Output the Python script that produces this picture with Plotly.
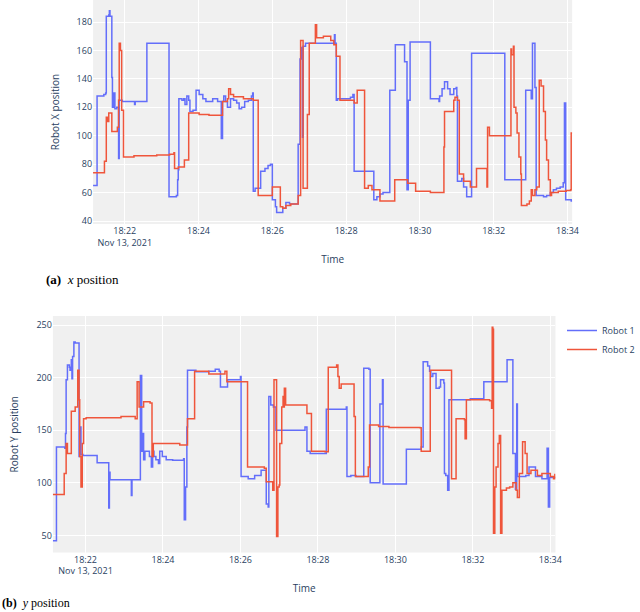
import pandas as pd
import plotly.graph_objects as go

# seconds after 18:21:00 on Nov 13, 2021 -> position (value holds until next point)
top_robot1 = [
    (8, 65), (15, 128), (26, 129), (29, 130), (30, 184), (34, 185), (35, 188), (36, 184),
    (39, 141), (40, 120), (42, 130), (44, 119), (47, 120), (50, 84), (51, 125), (56, 124),
    (76, 122), (77, 124), (96, 165), (132, 57), (144, 58), (146, 69), (147, 76), (148, 126),
    (153, 125), (156, 126), (158, 122), (161, 128), (164, 125), (166, 117), (171, 118),
    (176, 132), (181, 129), (187, 126), (192, 124), (203, 126), (211, 124), (217, 98),
    (219, 124), (221, 128), (224, 124), (227, 120), (232, 126), (237, 125), (242, 123),
    (246, 119), (250, 120), (255, 124), (261, 125), (266, 128), (268, 130), (269, 61),
    (272, 63), (281, 75), (288, 77), (293, 79), (297, 80), (300, 55), (305, 50), (307, 46),
    (317, 49), (322, 53), (328, 52), (342, 94), (345, 154), (347, 162), (349, 99), (350, 163),
    (354, 165), (401, 171), (402, 165), (404, 125), (406, 126), (427, 127), (431, 129),
    (433, 75), (465, 55), (470, 57), (475, 59), (480, 60), (491, 132), (500, 164), (515, 152),
    (519, 62), (521, 125), (524, 166), (557, 126), (571, 124), (572, 128), (576, 133),
    (580, 138), (585, 133), (589, 129), (595, 133), (599, 134), (600, 128), (601, 68),
    (608, 70), (611, 64), (616, 57), (624, 158), (678, 69), (712, 132), (721, 126), (723, 165),
    (727, 134), (729, 58), (741, 57), (746, 58), (752, 60), (757, 62), (762, 63), (768, 64),
    (773, 67), (775, 123), (777, 55), (786, 54), (788, 54),
]

top_robot2 = [
    (8, 74), (27, 82), (30, 113), (32, 110), (34, 116), (39, 103), (48, 106), (50, 125),
    (51, 165), (53, 160), (55, 118), (58, 85), (75, 86), (112, 86.5), (133, 87), (140, 88),
    (141, 77), (147, 78), (157, 83), (164, 116), (181, 115), (197, 114.5), (219, 124),
    (227, 126), (229, 133), (232, 129), (237, 127.5), (253, 126), (269, 125), (277, 58),
    (300, 64), (313, 50), (317, 49), (322, 51), (330, 52), (342, 58), (346, 167), (350, 63),
    (357, 115), (360, 165), (370, 178), (372, 169), (383, 170), (395, 167), (400, 164),
    (404, 156), (410, 125), (433, 123), (438, 132), (450, 63), (456, 65), (462, 62), (475, 54),
    (499, 69), (520, 66.5), (533, 61), (557, 60), (579, 92), (580, 117), (595, 125), (597, 127),
    (601, 125), (604, 73), (611, 68), (622, 64), (632, 77), (649, 64), (650, 106), (653, 100),
    (688, 161), (689, 157), (692, 163), (693, 120), (696, 116), (698, 102), (701, 85), (704, 73),
    (705, 51), (714, 52), (718, 54), (721, 62), (723, 58), (727, 62), (730, 64), (734, 139),
    (737, 135), (741, 117), (744, 97), (746, 83), (749, 69), (752, 58), (754, 60), (765, 61),
    (778, 61.5), (785, 62), (786, 102), (788, 102),
]

bottom_robot1 = [
    (9, 45), (15, 134), (28, 133), (29, 147), (30, 198), (32, 212), (35, 210), (36, 207),
    (38, 217), (39, 199), (40, 220), (42, 234), (44, 233), (50, 125), (51, 153), (53, 127),
    (56, 126), (78, 119), (96, 76), (97, 110), (98, 103), (131, 88), (132, 103), (145, 202),
    (147, 130), (148, 147), (150, 122), (152, 130), (159, 125), (162, 115), (164, 130),
    (166, 125), (169, 122), (173, 118.5), (175, 130), (179, 125), (185, 122), (195, 121.6),
    (212, 123), (213, 65), (215, 96), (217, 153), (218, 207), (231, 205.6), (251, 206),
    (261, 208), (267, 206), (269, 191), (280, 198), (300, 201), (301, 106), (312, 104),
    (322, 107), (332, 112), (340, 80), (343, 77), (344, 182), (347, 174), (351, 172),
    (355, 150), (400, 153), (403, 130), (408, 128), (433, 170), (464, 172), (465, 106),
    (471, 107), (479, 106), (491, 209), (499, 208), (501, 100), (516, 175), (520, 198),
    (521, 99), (557, 132), (580, 134), (583, 215), (590, 211), (593, 206), (595, 201),
    (598, 204), (603, 190), (608, 191), (610, 198), (615, 195), (616, 109), (618, 107),
    (621, 93), (623, 179), (656, 180), (677, 196), (713, 217), (722, 128), (726, 94),
    (728, 175), (729, 106), (742, 107), (747, 115), (757, 106), (767, 104), (775, 133),
    (777, 77), (779, 105), (788, 105),
]

bottom_robot2 = [
    (9, 89), (27, 109), (30, 137.5), (32, 128), (38, 168), (44, 172), (48, 207), (50, 179),
    (51, 125), (53, 96), (55, 137.5), (57, 161), (61, 162), (115, 163), (137, 161), (140, 196),
    (143, 172), (150, 177), (160, 176), (163, 125), (165, 137.5), (206, 136), (218, 161),
    (229, 206), (251, 203.4), (276, 206), (279, 196), (311, 115), (337, 114), (340, 101),
    (350, 93), (352, 198), (356, 49), (358, 96), (360, 98), (361, 137.5), (364, 172), (366, 182),
    (367, 172), (368, 190), (370, 174), (403, 166), (410, 130), (431, 129.6), (436, 210),
    (449, 212), (451, 201), (453, 190), (456, 194), (476, 163), (478, 106), (494, 106),
    (498, 115), (500, 155), (514, 153.5), (530, 152.7), (578, 152.4), (580, 130), (594, 207),
    (625, 207), (627, 104), (634, 161), (647, 160), (648, 142), (650, 179), (686, 178),
    (689, 171), (690, 248), (691, 246), (692, 52), (694, 96), (696, 115), (699, 137.5),
    (701, 145), (703, 52), (705, 93), (712, 95), (717, 96), (722, 100), (727, 93), (729, 86),
    (732, 109), (737, 139), (741, 128), (744, 109), (750, 112), (760, 107), (767, 109),
    (780, 106), (785, 104), (787, 108), (788, 108),
]

series_names = ['Robot 1', 'Robot 2']
colors = ['#636efa', '#EF553B']

base = pd.Timestamp('2021-11-13 18:21:00')


def unpack(pairs):
    secs = [p[0] for p in pairs]
    vals = [p[1] for p in pairs]
    return base + pd.to_timedelta(secs, unit='s'), vals


fig = go.Figure()

panels = [
    ((top_robot1, top_robot2), 'x', 'y', False),
    ((bottom_robot1, bottom_robot2), 'x2', 'y2', True),
]

for data, xa, ya, show in panels:
    for name, color, pairs in zip(series_names, colors, data):
        t, v = unpack(pairs)
        fig.add_trace(go.Scatter(
            x=t, y=v, name=name, mode='lines', line_shape='hv',
            line=dict(color=color, width=1.5),
            xaxis=xa, yaxis=ya, showlegend=show,
        ))

grid = dict(gridcolor='white', gridwidth=1, zeroline=False, automargin=False,
            showline=False, ticks='', tickfont=dict(size=9))

fig.update_layout(
    width=640, height=612,
    margin=dict(l=0, r=0, t=0, b=0),
    plot_bgcolor='#f0f0f0', paper_bgcolor='white',
    font=dict(family='Open Sans', size=9, color='#2a3f5f'),
    xaxis=dict(grid, domain=[95 / 640, 584 / 640], anchor='y',
               range=['2021-11-13 18:21:08.5', '2021-11-13 18:34:07.5'],
               tick0='2021-11-13 18:22', dtick=120000,
               title=dict(text='Time', font=dict(size=10), standoff=8)),
    yaxis=dict(grid, domain=[1 - 224 / 612, 1], anchor='x',
               range=[37.9, 195.5], dtick=20,
               title=dict(text='Robot X position', font=dict(size=10))),
    xaxis2=dict(grid, domain=[54 / 640, 567 / 640], anchor='y2',
                range=['2021-11-13 18:21:09.5', '2021-11-13 18:34:08'],
                tick0='2021-11-13 18:22', dtick=120000,
                title=dict(text='Time', font=dict(size=10), standoff=8)),
    yaxis2=dict(grid, domain=[1 - 552.5 / 612, 1 - 316 / 612], anchor='x2',
                range=[33.8, 258.6], dtick=50,
                title=dict(text='Robot Y position', font=dict(size=10))),
    legend=dict(x=574 / 640, xanchor='left', y=1 - 316 / 612, yanchor='top',
                font=dict(size=9), bgcolor='rgba(0,0,0,0)'),
    annotations=[
        dict(text='<b>(a)</b>  <i>x</i> position', xref='paper', yref='paper',
             x=45 / 640, y=1 - 280 / 612, xanchor='left', yanchor='middle',
             showarrow=False, font=dict(family='Liberation Serif', size=13, color='black')),
        dict(text='<b>(b)</b>  <i>y</i> position', xref='paper', yref='paper',
             x=0, y=0, xanchor='left', yanchor='bottom',
             showarrow=False, font=dict(family='Liberation Serif', size=12, color='black')),
    ],
)

fig.write_html('out.html', config={'displayModeBar': False},
               post_script="document.body.style.margin='0px';")
